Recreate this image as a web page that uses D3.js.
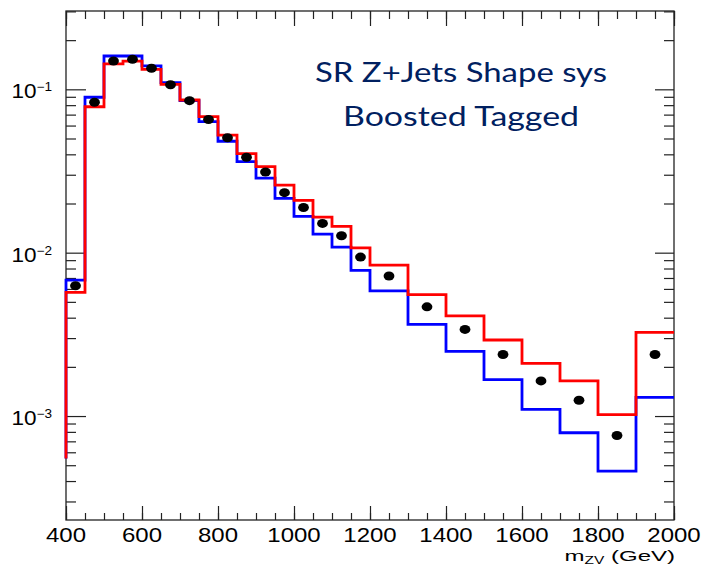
<!DOCTYPE html>
<html>
<head>
<meta charset="utf-8">
<script src="https://cdn.jsdelivr.net/npm/d3@7"></script>
<style>
  body { margin: 0; background: #fff; }
  svg { display: block; }
</style>
</head>
<body>
<div id="chart"></div>
<script>
(function() {

    // bin edges in m_ZV (GeV)
    var binEdges = [400, 450, 500, 550, 600, 650, 700, 750, 800, 850, 900, 950, 1000,
                    1050, 1100, 1150, 1200, 1300, 1400, 1500, 1600, 1700, 1800, 1900, 2000];

    // blue shape variation
    var blueVals = [0.0068, 0.0894, 0.160, 0.160, 0.139, 0.110, 0.0852, 0.0635, 0.0481, 0.0361,
                    0.0286, 0.0215, 0.0167, 0.0130, 0.0108, 0.0078, 0.00584, 0.00364, 0.00249,
                    0.00167, 0.00110, 0.00079, 0.00046, 0.00130];

    // red shape variation
    var redVals = [0.00571, 0.0782, 0.143, 0.149, 0.1326, 0.1073, 0.086, 0.068, 0.0525, 0.0404,
                   0.0336, 0.0259, 0.0209, 0.0165, 0.0145, 0.0107, 0.0084, 0.00554, 0.0041,
                   0.00292, 0.0021, 0.00164, 0.00102, 0.00325];

    // nominal (black points)
    var nominalVals = [0.00627, 0.0833, 0.149, 0.1527, 0.1345, 0.1067, 0.0852, 0.0653, 0.0505,
                       0.0384, 0.0312, 0.0233, 0.0189, 0.0151, 0.0127, 0.0094, 0.0072, 0.00466,
                       0.00339, 0.00238, 0.00164, 0.00125, 0.00076, 0.00238];

    var histBase = 5.5e-4;   // where the outline's left edge starts

    var xMajor = [400, 600, 800, 1000, 1200, 1400, 1600, 1800, 2000];
    var xMinor = d3.range(400, 2001, 50);
    var yMajor = [1e-3, 1e-2, 1e-1];
    var yMajorExp = ["\u22123", "\u22122", "\u22121"];
    var yMinor = [3e-4, 4e-4, 5e-4, 6e-4, 7e-4, 8e-4, 9e-4,
                  2e-3, 3e-3, 4e-3, 5e-3, 6e-3, 7e-3, 8e-3, 9e-3,
                  2e-2, 3e-2, 4e-2, 5e-2, 6e-2, 7e-2, 8e-2, 9e-2, 2e-1, 3e-1];

    var titleLines = ["SR Z+Jets Shape sys", "Boosted Tagged"];

    var width = 707, height = 566;
    var frame = {left: 66, right: 674, top: 11, bottom: 520};
    var labelFont = "'Liberation Sans', Arial, Helvetica, sans-serif";

    var svg = d3.select("#chart")
        .append("svg")
        .attr("width", width)
        .attr("height", height);

    var x = d3.scaleLinear()
        .domain([400, 2000])
        .range([frame.left, frame.right]);

    var y = d3.scaleLog()
        .domain([2.31e-4, 0.3016])
        .range([frame.bottom, frame.top]);

    /*
        axes: ticks inside the frame, ROOT style
    */
    function tickAxis(axis, vals, size, transform) {
        var g = svg.append("g")
            .attr("transform", transform)
            .call(axis.tickValues(vals).tickSize(size).tickFormat(""));
        g.select(".domain").remove();
        g.selectAll("line").attr("stroke", "#222").attr("stroke-width", 1.2);
    }

    tickAxis(d3.axisBottom(x), xMajor, -14, "translate(0," + frame.bottom + ")");
    tickAxis(d3.axisBottom(x), xMinor, -7, "translate(0," + frame.bottom + ")");
    tickAxis(d3.axisTop(x), xMajor, -15, "translate(0," + frame.top + ")");
    tickAxis(d3.axisTop(x), xMinor, -8, "translate(0," + frame.top + ")");
    tickAxis(d3.axisLeft(y), yMajor, -20, "translate(" + frame.left + ",0)");
    tickAxis(d3.axisLeft(y), yMinor, -10, "translate(" + frame.left + ",0)");
    tickAxis(d3.axisRight(y), yMajor, -19, "translate(" + frame.right + ",0)");
    tickAxis(d3.axisRight(y), yMinor, -10, "translate(" + frame.right + ",0)");

    svg.append("rect")
        .attr("x", frame.left).attr("y", frame.top)
        .attr("width", frame.right - frame.left)
        .attr("height", frame.bottom - frame.top)
        .attr("fill", "none")
        .attr("stroke", "#222")
        .attr("stroke-width", 1.3);

    /*
        step outline for a histogram
    */
    function stepPoints(vals, base) {
        var pts = [];
        if (base) pts.push([binEdges[0], base]);
        vals.forEach(function(v, i) {
            pts.push([binEdges[i], v]);
            pts.push([binEdges[i + 1], v]);
        });
        return pts;
    }

    var line = d3.line()
        .x(function(d) { return x(d[0]); })
        .y(function(d) { return y(d[1]); });

    svg.append("path")
        .attr("d", line(stepPoints(blueVals, histBase)))
        .attr("fill", "none")
        .attr("stroke", "#0000ff")
        .attr("stroke-width", 2.8);

    svg.append("path")
        .attr("d", line(stepPoints(redVals, histBase)))
        .attr("fill", "none")
        .attr("stroke", "#ff0000")
        .attr("stroke-width", 2.8);

    svg.selectAll(".pt")
        .data(nominalVals)
        .enter().append("ellipse")
        .attr("class", "pt")
        .attr("cx", function(d, i) { return x((binEdges[i] + binEdges[i + 1]) / 2); })
        .attr("cy", function(d) { return y(d); })
        .attr("rx", 5.4)
        .attr("ry", 4.5)
        .attr("fill", "#000");

    // tick labels (the picture is stretched sideways a little)
    svg.selectAll(".xlab")
        .data(xMajor)
        .enter().append("text")
        .attr("class", "xlab")
        .attr("transform", function(d) { return "translate(" + x(d) + ",542) scale(1.2,1)"; })
        .attr("text-anchor", "middle")
        .attr("font-family", labelFont)
        .attr("font-size", 20)
        .attr("fill", "#000")
        .text(function(d) { return d; });

    var ylab = svg.selectAll(".ylab")
        .data(yMajor)
        .enter().append("text")
        .attr("class", "ylab")
        .attr("transform", function(d) { return "translate(52," + (y(d) + 9) + ") scale(1.13,1)"; })
        .attr("text-anchor", "end")
        .attr("font-family", labelFont)
        .attr("fill", "#000");
    ylab.append("tspan").attr("font-size", 20).text("10");
    ylab.append("tspan").attr("font-size", 12).attr("dy", -7)
        .text(function(d, i) { return yMajorExp[i]; });

    // x title
    var xt = svg.append("text")
        .attr("transform", "translate(675,560.5) scale(1.55,1)")
        .attr("text-anchor", "end")
        .attr("font-family", labelFont)
        .attr("font-size", 15.5)
        .attr("fill", "#000");
    xt.append("tspan").text("m");
    xt.append("tspan").attr("font-size", 10).attr("dy", 3).text("ZV");
    xt.append("tspan").attr("dy", -3).text(" (GeV)");

    // title text
    var titleWidths = [292, 236];
    svg.selectAll(".title")
        .data(titleLines)
        .enter().append("text")
        .attr("class", "title")
        .attr("x", 461)
        .attr("y", function(d, i) { return 82 + i * 43.5; })
        .attr("text-anchor", "middle")
        .attr("font-family", "Lato, 'Open Sans', sans-serif")
        .attr("font-size", 26)
        .attr("fill", "#002060")
        .attr("textLength", function(d, i) { return titleWidths[i]; })
        .attr("lengthAdjust", "spacingAndGlyphs")
        .text(function(d) { return d; });

})();
</script>
</body>
</html>
